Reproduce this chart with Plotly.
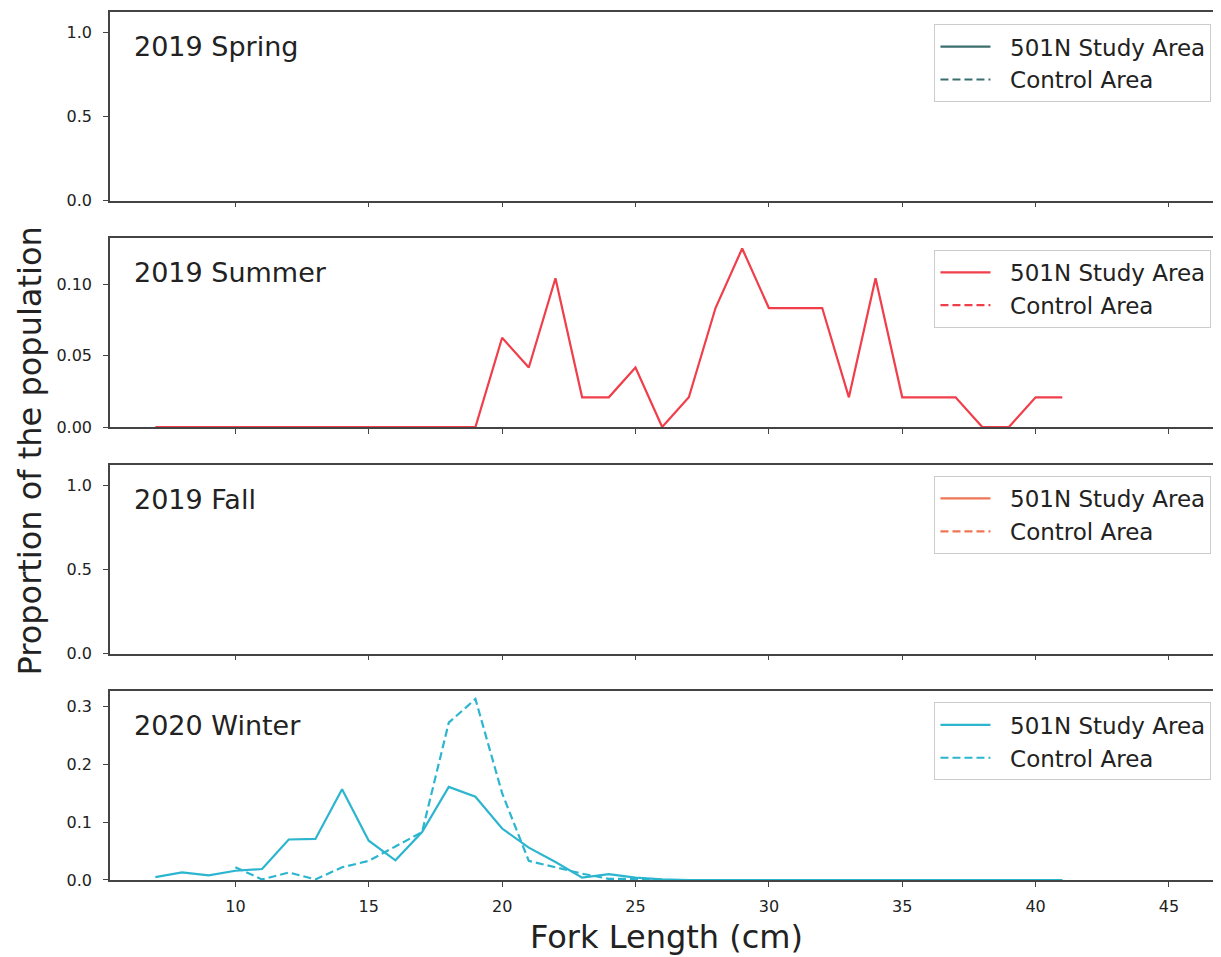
import plotly.graph_objects as go
from plotly.subplots import make_subplots

# fork length bins (cm)
lengths = [7, 8, 9, 10, 11, 12, 13, 14, 15, 16, 17, 18, 19, 20, 21, 22, 23, 24,
           25, 26, 27, 28, 29, 30, 31, 32, 33, 34, 35, 36, 37, 38, 39, 40, 41]
control_lengths = [10, 11, 12, 13, 14, 15, 16, 17, 18, 19, 20, 21, 22, 23, 24, 25,
                   26, 27, 28, 29, 30, 31, 32, 33, 34, 35, 36, 37, 38, 39, 40, 41]

seasons = ['2019 Spring', '2019 Summer', '2019 Fall', '2020 Winter']
colors = ['#3b6e6e', '#f03e4a', '#ef7654', '#2cb5cf']

# no fish recorded in spring / fall, none in the summer control area
spring_study = []
spring_control = []
summer_study = [0, 0, 0, 0, 0, 0, 0, 0, 0, 0, 0, 0, 0,
                0.0625, 0.0417, 0.1042, 0.0208, 0.0208, 0.0417, 0, 0.0208, 0.0833,
                0.125, 0.0833, 0.0833, 0.0833, 0.0208, 0.1042, 0.0208, 0.0208,
                0.0208, 0, 0, 0.0208, 0.0208]
summer_control = []
fall_study = []
fall_control = []
winter_study = [0.005, 0.013, 0.008, 0.016, 0.019, 0.070, 0.071, 0.157, 0.068,
                0.034, 0.083, 0.161, 0.144, 0.089, 0.056, 0.031, 0.004, 0.010,
                0.004, 0.001, 0, 0, 0, 0, 0, 0, 0, 0, 0, 0, 0, 0, 0, 0, 0]
winter_control = [0.022, 0.001, 0.013, 0.001, 0.022, 0.033, 0.058, 0.083, 0.272,
                  0.313, 0.150, 0.033, 0.022, 0.011, 0.002, 0.002, 0, 0, 0, 0,
                  0, 0, 0, 0, 0, 0, 0, 0, 0, 0, 0, 0]

study = [spring_study, summer_study, fall_study, winter_study]
control = [spring_control, summer_control, fall_control, winter_control]
y_tops = [1.12, 0.132, 1.12, 0.326]
y_dticks = [0.5, 0.05, 0.5, 0.1]
y_formats = ['.1f', '.2f', '.1f', '.1f']

FONT = 'DejaVu Sans'
AXIS_COLOR = '#444444'
GAP = '\u00a0\u00a0'  # small gap between legend line and label

fig = make_subplots(rows=4, cols=1, shared_xaxes=True, vertical_spacing=0.0437)

legend_tops = [0.986, 0.726, 0.4655, 0.2046]
for i in range(4):
    row = i + 1
    leg = 'legend' if i == 0 else 'legend%d' % row
    ys = study[i] if study[i] else [None] * len(lengths)
    yc = control[i] if control[i] else [None] * len(control_lengths)
    fig.add_trace(go.Scatter(
        x=lengths, y=ys, mode='lines', name=GAP + '501N Study Area',
        line=dict(color=colors[i], width=2.2), legend=leg
    ), row=row, col=1)
    fig.add_trace(go.Scatter(
        x=control_lengths, y=yc, mode='lines', name=GAP + 'Control Area',
        line=dict(color=colors[i], width=2.2, dash='8px,4px'), legend=leg
    ), row=row, col=1)
    fig.update_yaxes(range=[0, y_tops[i]], dtick=y_dticks[i], tick0=0,
                     tickformat=y_formats[i], row=row, col=1)
    fig.add_annotation(text=seasons[i], xref='x%s domain' % ('' if row == 1 else row),
                       yref='y%s domain' % ('' if row == 1 else row),
                       x=0.02, y=0.91, xanchor='left', yanchor='top',
                       showarrow=False, font=dict(family=FONT, size=27, color='#222'))
    fig.update_layout(**{leg: dict(
        x=0.995, xanchor='right', y=legend_tops[i], yanchor='top',
        bgcolor='rgba(255,255,255,0.9)', bordercolor='#cccccc', borderwidth=1,
        font=dict(family=FONT, size=23, color='#222'), tracegroupgap=2,
        itemwidth=50,
    )})

fig.update_xaxes(range=[5.3, 46.8], dtick=5, tick0=0, showgrid=False, zeroline=False,
                 showline=True, mirror=True, linecolor=AXIS_COLOR, linewidth=1.5,
                 ticks='outside', ticklen=5, tickcolor=AXIS_COLOR, ticklabelstandoff=6,
                 tickfont=dict(family=FONT, size=16, color='#222'))
fig.update_yaxes(showgrid=False, zeroline=False,
                 showline=True, mirror=True, linecolor=AXIS_COLOR, linewidth=1.5,
                 ticks='outside', ticklen=5, tickcolor=AXIS_COLOR, ticklabelstandoff=8,
                 tickfont=dict(family=FONT, size=16, color='#222'))

fig.add_annotation(text='Proportion of the population', xref='paper', yref='paper',
                   x=-0.072, y=0.494, textangle=-90, showarrow=False,
                   xanchor='center', yanchor='middle',
                   font=dict(family=FONT, size=32, color='#222'))
fig.add_annotation(text='Fork Length (cm)', xref='paper', yref='paper',
                   x=0.503, y=-0.0655, showarrow=False,
                   xanchor='center', yanchor='middle',
                   font=dict(family=FONT, size=32, color='#222'))

# the page body adds an 8px offset, so the figure is trimmed to fit the window
fig.update_layout(
    width=1213, height=949,
    margin=dict(l=102, r=2, t=2, b=77),
    plot_bgcolor='white', paper_bgcolor='white',
    font=dict(family=FONT),
)
fig.write_html("out.html")
